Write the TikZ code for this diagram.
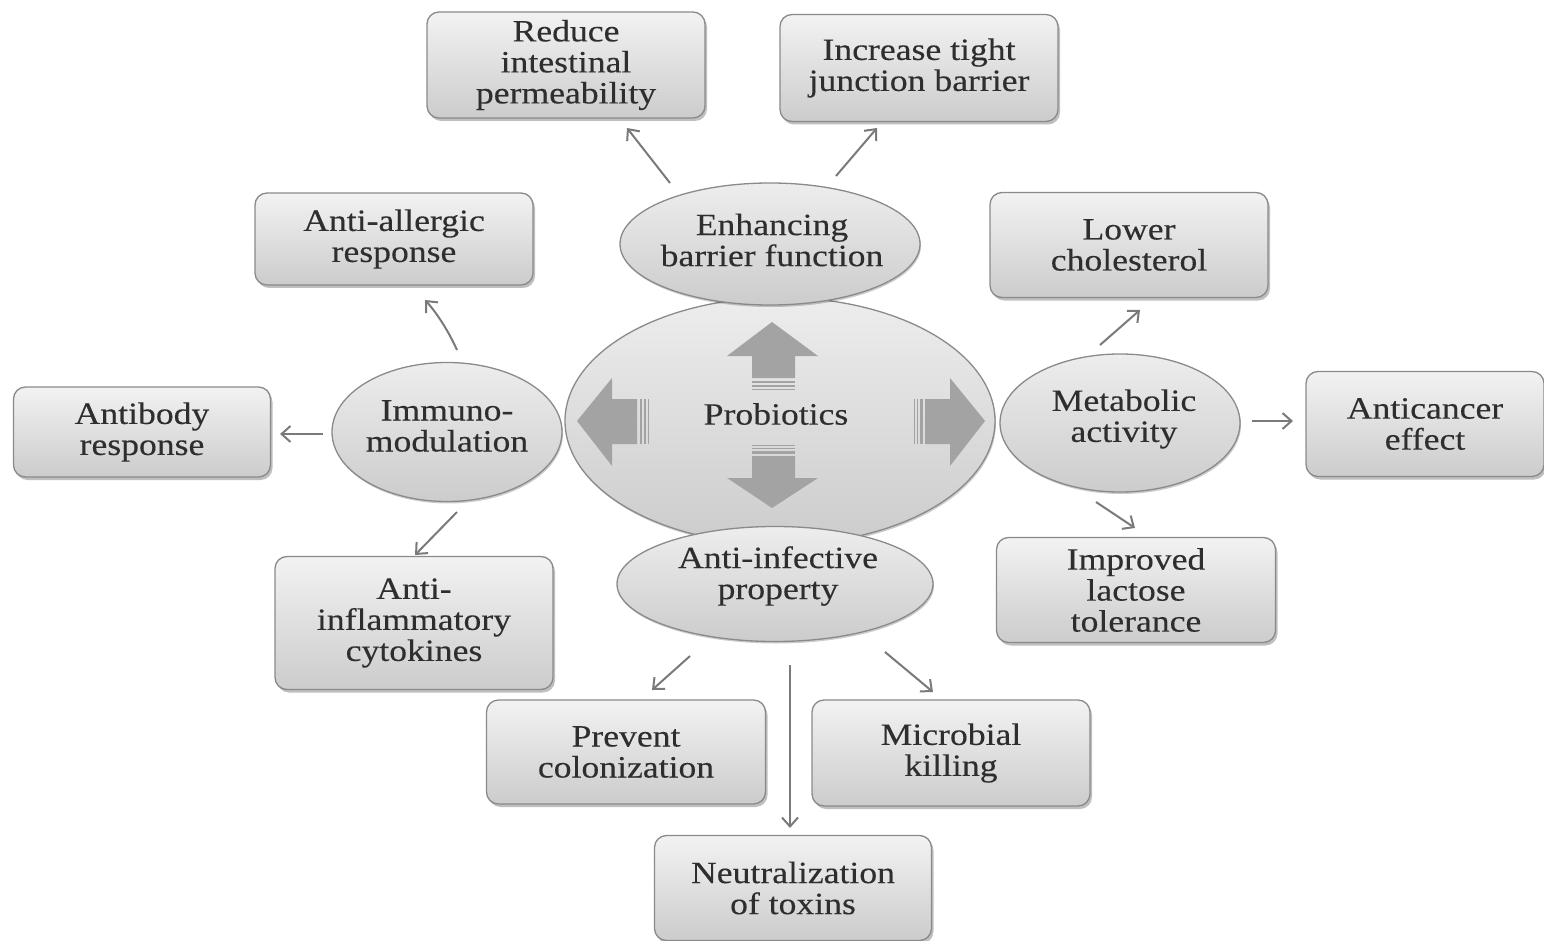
\documentclass[tikz,border=0pt]{standalone}
\usepackage{fontspec}
\setmainfont{Liberation Serif}[FakeStretch=1.15, FakeBold=0.25]
\usetikzlibrary{shapes.geometric,arrows.meta,shadows}
\definecolor{txt}{HTML}{2E2E2E}
\definecolor{edge}{HTML}{8A8A8A}
\definecolor{arr}{HTML}{7A7A7A}
\definecolor{blk}{HTML}{A3A3A3}
\tikzset{
  lbl/.style={text=txt, align=center, font=\fontsize{31}{31}\selectfont},
  box/.style={lbl, rectangle, rounded corners=12pt, draw=edge, line width=1.3pt,
    top color=white!95!black, bottom color=white!80!black, inner sep=0pt,
    drop shadow={shadow xshift=2pt, shadow yshift=-3pt, fill=black, opacity=0.25}},
  oval/.style={ellipse, draw=edge, line width=1.3pt, inner sep=0pt,
    top color=white!93!black, bottom color=white!80!black,
    drop shadow={shadow xshift=1pt, shadow yshift=-2pt, fill=black, opacity=0.2}},
  link/.style={draw=arr, line width=2pt, -{Straight Barb[length=9pt,width=16pt,line width=2pt]}},
  blockarrow/.style={fill=blk, draw=none}
}
\begin{document}
\begin{tikzpicture}[x=1pt,y=-1pt]
\useasboundingbox (0,0) rectangle (1544,941);

% central ellipse
\node[oval, minimum width=430pt, minimum height=247pt] (prob) at (780,421) {};
% block arrows
% up
\fill[blockarrow] (727,356) -- (772,322) -- (818,356) -- (795,356) -- (795,378) -- (752,378) -- (752,356) -- cycle;
\fill[blockarrow] (752,380.5) rectangle (795,383);
\fill[blockarrow] (752,385) rectangle (795,386.5);
\fill[blockarrow] (752,388.5) rectangle (795,389.5);
% down
\fill[blockarrow] (727,478) -- (772,508) -- (818,478) -- (795,478) -- (795,456) -- (752,456) -- (752,478) -- cycle;
\fill[blockarrow] (752,453.5) rectangle (795,451);
\fill[blockarrow] (752,449) rectangle (795,447.5);
\fill[blockarrow] (752,445.5) rectangle (795,444.5);
% left
\fill[blockarrow] (612,378) -- (577,421) -- (612,466) -- (612,444) -- (637,444) -- (637,399) -- (612,399) -- cycle;
\fill[blockarrow] (639.5,399) rectangle (642,444);
\fill[blockarrow] (644,399) rectangle (645.5,444);
\fill[blockarrow] (647.5,399) rectangle (648.5,444);
% right
\fill[blockarrow] (950,378) -- (985,421) -- (950,466) -- (950,444) -- (925,444) -- (925,399) -- (950,399) -- cycle;
\fill[blockarrow] (922.5,399) rectangle (920,444);
\fill[blockarrow] (918,399) rectangle (916.5,444);
\fill[blockarrow] (914.5,399) rectangle (913.5,444);
\node[lbl] (probtxt) at (776,414) {Probiotics};

% secondary ellipses
\node[oval, minimum width=300pt, minimum height=122pt] (enh) at (770,244) {};
\node[lbl] (enhtxt) at (772,240) {Enhancing\\barrier function};
\node[oval, minimum width=230pt, minimum height=139pt] (imm) at (447,432) {};
\node[lbl] (immtxt) at (447,426) {Immuno-\\modulation};
\node[oval, minimum width=240pt, minimum height=138pt] (met) at (1120,423) {};
\node[lbl] (mettxt) at (1124,419) {Metabolic\\activity};
\node[oval, minimum width=316pt, minimum height=115pt] (inf) at (775,584) {};
\node[lbl] (inftxt) at (778,576) {Anti-infective\\property};

% boxes
\node[box, minimum width=278pt, minimum height=106pt] (red) at (566,65) {Reduce\\intestinal\\permeability};
\node[box, minimum width=278pt, minimum height=107pt] (tight) at (919,68) {Increase tight\\junction barrier};
\node[box, minimum width=278pt, minimum height=92pt] (allerg) at (394,239) {Anti-allergic\\response};
\node[box, minimum width=278pt, minimum height=105pt] (chol) at (1129,245) {Lower\\cholesterol};
\node[box, minimum width=257pt, minimum height=90pt] (antib) at (142,432) {Antibody\\response};
\node[box, minimum width=238pt, minimum height=105pt] (canc) at (1425,424) {Anticancer\\effect};
\node[box, minimum width=278pt, minimum height=133pt] (inflam) at (414,623) {Anti-\\inflammatory\\cytokines};
\node[box, minimum width=279pt, minimum height=105pt] (lact) at (1136,590) {Improved\\lactose\\tolerance};
\node[box, minimum width=279pt, minimum height=104pt] (prev) at (626,752) {Prevent\\colonization};
\node[box, minimum width=278pt, minimum height=106pt] (kill) at (951,753) {Microbial\\killing};
\node[box, minimum width=277pt, minimum height=105pt] (neut) at (793,888) {Neutralization\\of toxins};

% connector end points
\coordinate (e1) at (627,128);
\coordinate (e2) at (877,128);
\coordinate (e3) at (425,300);
\coordinate (e4) at (280,434);
\coordinate (e5) at (415,555);
\coordinate (e6) at (1140,310);
\coordinate (e7) at (1293,421);
\coordinate (e8) at (1135,528);
\coordinate (e9) at (652,690);
\coordinate (e10) at (790,828);
\coordinate (e11) at (933,692);

\draw[link] (670,183) -- (e1);
\draw[link] (836,176) -- (e2);
\draw[link] (457,350) .. controls (448,330) and (436,312) .. (e3);
\draw[link] (323,434) -- (e4);
\draw[link] (457,512) -- (e5);
\draw[link] (1100,345) -- (e6);
\draw[link] (1252,421) -- (e7);
\draw[link] (1096,502) -- (e8);
\draw[link] (690,656) -- (e9);
\draw[link] (790,665) -- (e10);
\draw[link] (885,652) -- (e11);
\end{tikzpicture}
\end{document}
